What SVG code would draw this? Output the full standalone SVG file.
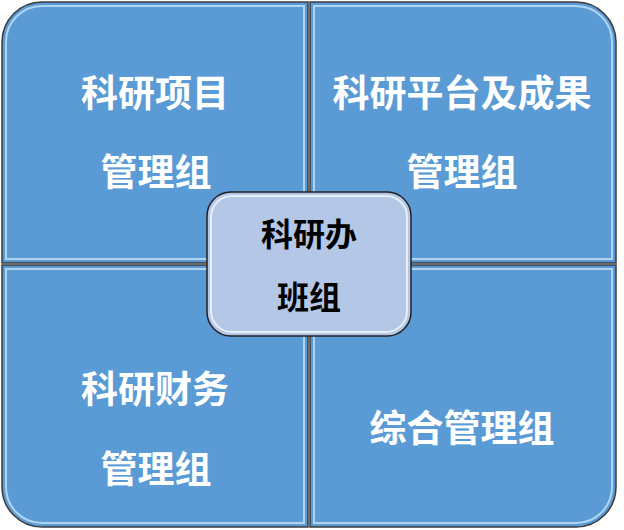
<svg xmlns="http://www.w3.org/2000/svg" width="624" height="530" viewBox="0 0 624 530">
<style>
.panel{fill:#5b9bd5;stroke:#3c3c3c;stroke-width:1.5}
.hl{fill:none;stroke:#b9dcf5;stroke-width:2;opacity:0.9}
.t{font-family:"Noto Sans CJK SC","Noto Sans",sans-serif;font-weight:bold;font-size:37px;fill:#ffffff;text-anchor:middle}
.c{font-family:"Noto Sans CJK SC","Noto Sans",sans-serif;font-weight:bold;font-size:32px;fill:#000000;text-anchor:middle}
</style>
<rect width="624" height="530" fill="#ffffff"/>
<g id="tl">
<path class="panel" d="M2,263 V42 A40,40 0 0 1 42,2 H308 V263 Z"/>
<path class="hl" d="M6,259 V42 A36,36 0 0 1 42,6 H304 V259 Z"/>
<text class="t" x="155" y="107">科研项目</text>
<text class="t" x="156" y="186">管理组</text>
</g>
<g id="tr">
<path class="panel" d="M310,2 H576 A40,40 0 0 1 616,42 V263 H310 Z"/>
<path class="hl" d="M314,6 H576 A36,36 0 0 1 612,42 V259 H314 Z"/>
<text class="t" x="462" y="107">科研平台及成果</text>
<text class="t" x="462" y="186">管理组</text>
</g>
<g id="bl">
<path class="panel" d="M2,265 H308 V527 H42 A40,40 0 0 1 2,487 Z"/>
<path class="hl" d="M6,269 H304 V523 H42 A36,36 0 0 1 6,487 Z"/>
<text class="t" x="155" y="403">科研财务</text>
<text class="t" x="156" y="483">管理组</text>
</g>
<g id="br">
<path class="panel" d="M310,265 H616 V487 A40,40 0 0 1 576,527 H310 Z"/>
<path class="hl" d="M314,269 H612 V487 A36,36 0 0 1 576,523 H314 Z"/>
<text class="t" x="462" y="442">综合管理组</text>
</g>
<g id="center">
<rect x="207" y="192" width="204" height="144" rx="24" fill="#b4c7e7" stroke="#222222" stroke-width="1.5"/>
<rect x="211" y="196" width="196" height="136" rx="21" fill="none" stroke="#e6f0fa" stroke-width="2"/>
<text class="c" x="309" y="246">科研办</text>
<text class="c" x="309" y="309">班组</text>
</g>
<g id="connectors"></g>
</svg>
